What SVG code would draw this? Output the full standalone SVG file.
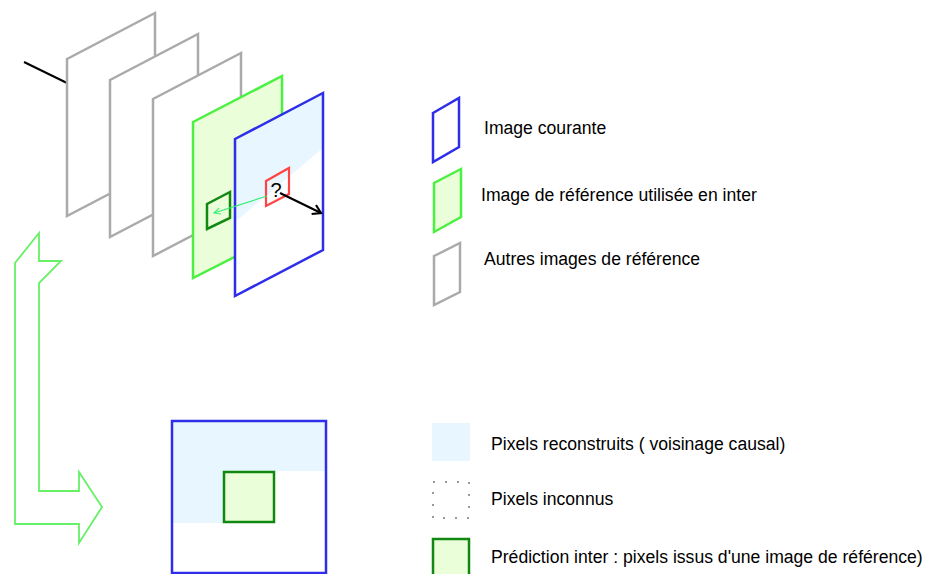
<svg xmlns="http://www.w3.org/2000/svg" width="928" height="574" viewBox="0 0 928 574">
<defs>
<style>
.t{font-family:"Liberation Sans",Arial,sans-serif;font-size:17.6px;fill:#000}
.gray{fill:#fff;stroke:#aaaaaa;stroke-width:2.5;stroke-linejoin:miter}
.ref{fill:#eaffd9;stroke:#4cf040;stroke-width:2.5}
.cur{fill:none;stroke:#2e2eea;stroke-width:2.5}
.lb{fill:#e8f6ff}
.dg{fill:#eaffd9;stroke:#118811;stroke-width:2.5}
</style>
<marker id="ab" viewBox="0 0 12 12" refX="10" refY="6" markerWidth="12" markerHeight="12" markerUnits="userSpaceOnUse" orient="auto">
<path d="M2,1 L10,6 L2,11" fill="none" stroke="#000" stroke-width="2.2"/>
</marker>
<marker id="ag" viewBox="0 0 10 10" refX="9" refY="5" markerWidth="9" markerHeight="9" markerUnits="userSpaceOnUse" orient="auto">
<path d="M2,1.5 L9,5 L2,8.5" fill="none" stroke="#33ee77" stroke-width="1.2"/>
</marker>
</defs>
<rect width="928" height="574" fill="#fff"/>
<g id="connectors">
<line x1="24" y1="62" x2="67" y2="83" stroke="#000" stroke-width="2"/>
</g>
<g id="frame1"><polygon class="gray" points="67,59 155,13 155,170 67,216"/></g>
<g id="frame2"><polygon class="gray" points="110,80 198,34 198,191 110,237"/></g>
<g id="frame3"><polygon class="gray" points="153,99 241,53 241,210 153,256"/></g>
<g id="frameRef">
<polygon class="ref" points="193,122 282,76 282,233 193,278"/>
<polygon points="207,204 230,192 230,218 207,229" fill="none" stroke="#118811" stroke-width="2.5"/>
</g>
<g id="frameCur">
<polygon points="235,139 323,93 323,250 235,296" fill="#fff"/>
<polygon class="lb" points="235,139 323,93 323,148 235,222"/>
<polygon class="cur" points="235,139 323,93 323,250 235,296"/>
<polygon points="266,181 289,168 289,194 266,206" fill="none" stroke="#ff4444" stroke-width="2.2"/>
<text x="276" y="197" font-family="Liberation Sans,Arial,sans-serif" font-size="20" text-anchor="middle" fill="#000">?</text>
</g>
<g id="connectors2">
<line x1="280" y1="193" x2="321" y2="213" stroke="#000" stroke-width="2.2" marker-end="url(#ab)"/>
<line x1="267" y1="196" x2="214" y2="213" stroke="#33ee77" stroke-width="1.2" marker-end="url(#ag)"/>
<polygon points="39,233 15,263 15,524 79,524 79,543 102,507 79,472 79,491 39,491 39,283 61,261 39,261" fill="none" stroke="#66f066" stroke-width="1.8"/>
</g>
<g id="block">
<rect x="172" y="421" width="154" height="50" class="lb"/>
<rect x="172" y="471" width="52" height="52" class="lb"/>
<rect x="224" y="472" width="50" height="50" class="dg"/>
<rect x="172" y="421" width="154" height="152" class="cur"/>
</g>
<g id="legend-cur">
<polygon class="cur" points="433,113 459,98 459,147 433,162"/>
<text class="t" x="484" y="134">Image courante</text>
</g>
<g id="legend-ref">
<polygon class="ref" points="434,183 461,169 461,217 434,232"/>
<text class="t" x="481" y="201">Image de référence utilisée en inter</text>
</g>
<g id="legend-other">
<polygon class="gray" points="434,256 460,243 460,292 434,305"/>
<text class="t" x="484" y="265">Autres images de référence</text>
</g>
<g id="legend-recon">
<rect x="432" y="423" width="38" height="38" class="lb"/>
<text class="t" x="491" y="450">Pixels reconstruits ( voisinage causal)</text>
</g>
<g id="legend-unknown">
<rect x="433" y="482" width="36" height="36" fill="none" stroke="#999999" stroke-width="2" stroke-dasharray="2 10"/>
<text class="t" x="491" y="505">Pixels inconnus</text>
</g>
<g id="legend-pred">
<rect x="433" y="539" width="36" height="40" class="dg"/>
<text class="t" x="491" y="563">Prédiction inter : pixels issus d'une image de référence)</text>
</g>
</svg>
